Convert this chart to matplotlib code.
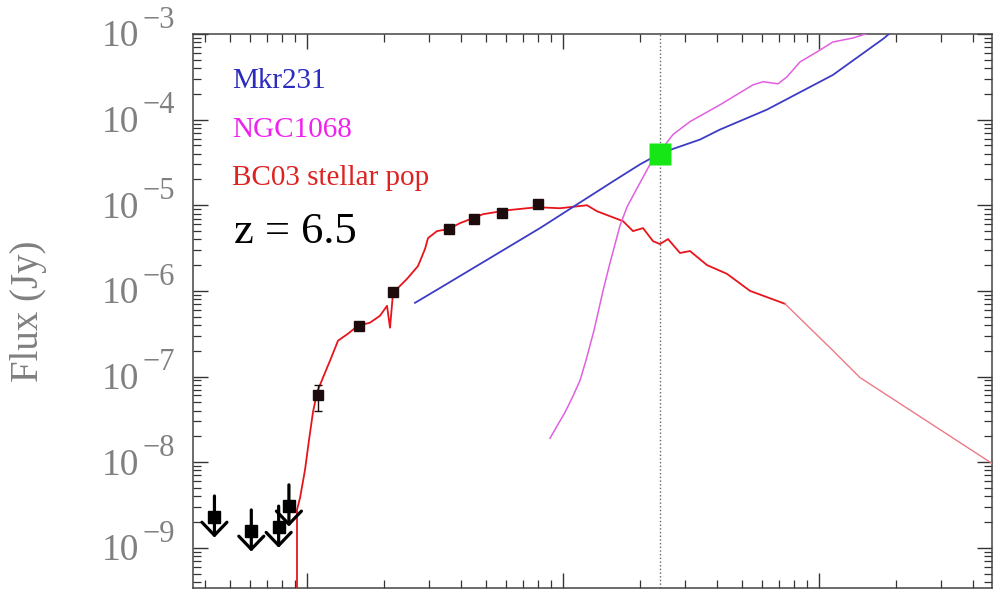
import numpy as np
import matplotlib
matplotlib.use('Agg')
import matplotlib.pyplot as plt
from matplotlib.ticker import LogLocator, NullFormatter, FixedLocator

plt.rcParams['font.family'] = ['Liberation Serif', 'DejaVu Serif']

# photometry, wavelength in micron, flux in Jy
lim_wave = [0.435, 0.606, 0.775, 0.85]
lim_flux = [2.3e-9, 1.58e-9, 1.75e-9, 3.1e-9]

det_wave = [1.1, 1.6, 2.16, 3.6, 4.5, 5.8, 8.0]
det_flux = [6.0e-8, 3.9e-7, 9.6e-7, 5.3e-6, 6.9e-6, 8.1e-6, 1.03e-5]
det_err = [2.0e-8, 3.0e-8, 6.0e-8, 3.0e-7, 4.0e-7, 5.0e-7, 8.0e-7]

mips_wave = 24.0
mips_flux = 4.0e-5

y_ticks = [1e-9, 1e-8, 1e-7, 1e-6, 1e-5, 1e-4, 1e-3]
y_exps = ['\u22129', '\u22128', '\u22127', '\u22126', '\u22125', '\u22124', '\u22123']

# BC03 stellar population model
bc03_wave = [0.914, 0.914, 0.939, 0.982, 1.018, 1.055, 1.094, 1.155, 1.230, 1.322,
             1.446, 1.582, 1.762, 1.928, 2.054, 2.110, 2.168, 2.458, 2.714, 2.890,
             2.970, 3.220, 3.555, 3.961, 4.870, 6.043, 7.914, 9.734, 12.41, 13.58,
             15.26, 17.16, 18.77, 20.54, 22.47, 23.92, 25.72, 28.64, 31.34, 36.52,
             43.72, 53.77, 73.66, 110.4, 144.5, 465.6, 510.0]
bc03_flux = [1.0e-10, 2.77e-9, 3.81e-9, 8.07e-9, 1.80e-8, 3.81e-8, 6.52e-8, 9.73e-8, 1.53e-7, 2.62e-7,
             3.16e-7, 3.92e-7, 4.25e-7, 5.12e-7, 6.69e-7, 3.71e-7, 9.48e-7, 1.38e-6, 1.95e-6, 3.08e-6,
             4.13e-6, 4.99e-6, 5.26e-6, 6.18e-6, 7.86e-6, 8.74e-6, 9.48e-6, 9.23e-6, 1.0e-5, 8.51e-6,
             7.45e-6, 6.52e-6, 4.99e-6, 5.41e-6, 3.81e-6, 3.52e-6, 4.03e-6, 2.77e-6, 2.92e-6, 2.00e-6,
             1.58e-6, 1.0e-6, 7.06e-7, 2.17e-7, 9.73e-8, 1.0e-8, 8.3e-9]

# NGC1068 template
ngc_wave = [8.897, 9.45, 10.18, 10.85, 11.65, 12.30, 13.20, 14.33, 15.26, 16.70,
            17.80, 19.46, 21.88, 23.92, 26.90, 31.34, 41.06, 55.24, 60.43, 69.16,
            74.99, 84.30, 98.22, 113.4, 135.8, 160.0]
ngc_flux = [1.90e-8, 2.60e-8, 3.81e-8, 5.60e-8, 8.97e-8, 1.55e-7, 3.40e-7, 1.0e-6, 2.12e-6, 5.80e-6,
            9.60e-6, 1.58e-5, 3.0e-5, 4.25e-5, 6.70e-5, 9.48e-5, 1.49e-4, 2.55e-4, 2.77e-4, 2.62e-4,
            3.16e-4, 4.72e-4, 6.18e-4, 8.07e-4, 8.98e-4, 1.05e-3]

# Mkr231 template
mkr_wave = [2.642, 3.307, 8.133, 15.68, 19.99, 23.92, 34.29, 41.06, 62.66, 113.4, 177.8, 195.0]
mkr_flux = [7.25e-7, 1.08e-6, 5.41e-6, 1.90e-5, 3.0e-5, 4.03e-5, 5.85e-5, 7.66e-5, 1.31e-4, 3.33e-4,
            8.75e-4, 1.1e-3]

gray = '#808080'

fig = plt.figure(figsize=(9.93, 5.9), dpi=100)
ax = fig.add_axes([193 / 993, 2 / 590, 799 / 993, 554 / 590])
ax.set_xscale('log')
ax.set_yscale('log')

bw = np.array(bc03_wave)
bf = np.array(bc03_flux)
head = bw <= 74
tail = bw >= 73
ax.plot(bw[head], bf[head], color='#e8141c', lw=1.3, zorder=3)
ax.plot(bw[tail], bf[tail], color='#ec7a86', lw=1.0, zorder=3)
ax.plot(ngc_wave, ngc_flux, color='#e060e0', lw=1.1, zorder=3)
ax.plot(mkr_wave, mkr_flux, color='#3c3cc4', lw=1.3, zorder=3)

ax.axvline(mips_wave, color='#666666', ls=':', lw=1.0, zorder=1)
ax.plot([mips_wave], [mips_flux], 's', color='#16e616', ms=16, mec='none', zorder=6)

ax.errorbar(det_wave, det_flux, yerr=det_err, fmt='s', color='#1e0c0c', ms=7,
            capsize=3, elinewidth=1, zorder=5)

ax.plot(lim_wave, lim_flux, 's', color='black', ms=8, zorder=5)
for w, f in zip(lim_wave, lim_flux):
    ax.annotate('', xy=(w, f / 1.75), xytext=(w, f * 1.75),
                arrowprops=dict(arrowstyle='->,head_length=0.47,head_width=0.45',
                                lw=2.3, color='black', mutation_scale=20,
                                shrinkA=0, shrinkB=0), zorder=5)

ax.set_xlim(0.3587, 474)
ax.set_ylim(10 ** -9.47, 1e-3)

ax.xaxis.set_major_locator(LogLocator(base=10, numticks=20))
ax.xaxis.set_minor_locator(LogLocator(base=10, subs=np.arange(2, 10), numticks=40))
ax.xaxis.set_major_formatter(NullFormatter())
ax.xaxis.set_minor_formatter(NullFormatter())
ax.yaxis.set_major_locator(FixedLocator(y_ticks))
ax.yaxis.set_minor_locator(LogLocator(base=10, subs=np.arange(2, 10), numticks=40))
ax.yaxis.set_major_formatter(NullFormatter())
ax.yaxis.set_minor_formatter(NullFormatter())

ax.tick_params(which='both', direction='in', top=True, right=True, color='#333333')
ax.tick_params(which='major', length=10.5, width=1.0)
ax.tick_params(which='minor', length=5.5, width=0.9)
for s in ax.spines.values():
    s.set_color('#444444')
    s.set_linewidth(1.1)

# y tick labels: "10" with a large raised exponent
for v, e in zip(y_ticks, y_exps):
    ax.annotate(e, xy=(-0.0225, v), xycoords=('axes fraction', 'data'),
                xytext=(0, 4.5), textcoords='offset points', ha='right', va='baseline',
                fontsize=22, color=gray, annotation_clip=False)
    ax.annotate('10', xy=(-0.067, v), xycoords=('axes fraction', 'data'),
                xytext=(0, -9), textcoords='offset points', ha='right', va='baseline',
                fontsize=27, color=gray, annotation_clip=False)

ax.set_ylabel('Flux (Jy)', fontsize=28, color=gray)
ax.yaxis.set_label_coords(-0.183, 0.5)

ax.text(0.049, 0.9025, 'Mkr231', transform=ax.transAxes, fontsize=21, color='#2b2bbf')
ax.text(0.049, 0.814, 'NGC1068', transform=ax.transAxes, fontsize=21, color='#ee22ee')
ax.text(0.049, 0.727, 'BC03 stellar pop', transform=ax.transAxes, fontsize=21, color='#dd2222')
ax.text(0.051, 0.623, 'z = 6.5', transform=ax.transAxes, fontsize=32, color='black')

fig.savefig('out.png', dpi=100)
